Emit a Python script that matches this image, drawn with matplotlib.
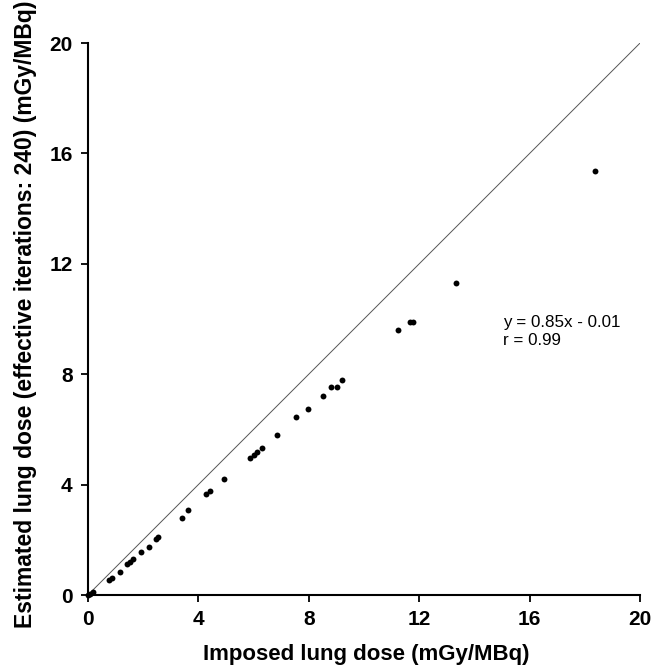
import matplotlib
matplotlib.use("Agg")
import matplotlib.pyplot as plt

plt.rcParams['font.family'] = ['Liberation Sans', 'DejaVu Sans']

# Imposed vs estimated lung dose (mGy/MBq)
imposed = [0.02, 0.07, 0.19, 0.75, 0.86, 1.18, 1.43, 1.52, 1.62, 1.91, 2.22,
           2.46, 2.55, 3.42, 3.63, 4.28, 4.44, 4.93, 5.87, 6.01, 6.11, 6.29,
           6.84, 7.55, 7.96, 8.53, 8.79, 9.01, 9.21, 11.22, 11.68, 11.78,
           13.32, 18.36]
estimated = [0.01, 0.05, 0.10, 0.54, 0.62, 0.82, 1.12, 1.21, 1.29, 1.57, 1.75,
             2.04, 2.10, 2.80, 3.08, 3.65, 3.78, 4.19, 4.98, 5.07, 5.17, 5.34,
             5.80, 6.44, 6.73, 7.20, 7.53, 7.55, 7.80, 9.61, 9.88, 9.90,
             11.30, 15.36]

ticks = [0, 4, 8, 12, 16, 20]
fit_line = "y = 0.85x - 0.01"
r_line = "r = 0.99"

fig = plt.figure(figsize=(6.66, 6.69), dpi=100)
ax = fig.add_axes([0.132, 0.1106, 0.829, 0.825])

# identity line
ax.plot([0, 20], [0, 20], color="#555555", linewidth=0.7, zorder=1)
ax.scatter(imposed, estimated, s=18, color="black", zorder=3, clip_on=False,
           linewidths=0)

ax.set_xlim(0, 20)
ax.set_ylim(0, 20)
ax.set_xticks(ticks)
ax.set_yticks(ticks)
ax.set_xticklabels([str(t) for t in ticks], fontsize=15, fontweight="bold")
ax.set_yticklabels([str(t) for t in ticks], fontsize=15, fontweight="bold")
for s in ("top", "right"):
    ax.spines[s].set_visible(False)
for s in ("left", "bottom"):
    ax.spines[s].set_linewidth(1.5)
ax.tick_params(direction="out", length=5, width=1.3, pad=6)

ax.set_xlabel("Imposed lung dose (mGy/MBq)", fontsize=16, fontweight="bold")
ax.set_ylabel("Estimated lung dose (effective iterations: 240) (mGy/MBq)",
              fontsize=16.5, fontweight="bold")
ax.xaxis.set_label_coords(0.505, -0.089)
ax.yaxis.set_label_coords(-0.0924, 0.509)

ax.text(15.05, 9.72, fit_line, fontsize=12.25, va="baseline", ha="left")
ax.text(15.05, 9.06, r_line, fontsize=12.25, va="baseline", ha="left")

fig.savefig("out.png", dpi=100)
